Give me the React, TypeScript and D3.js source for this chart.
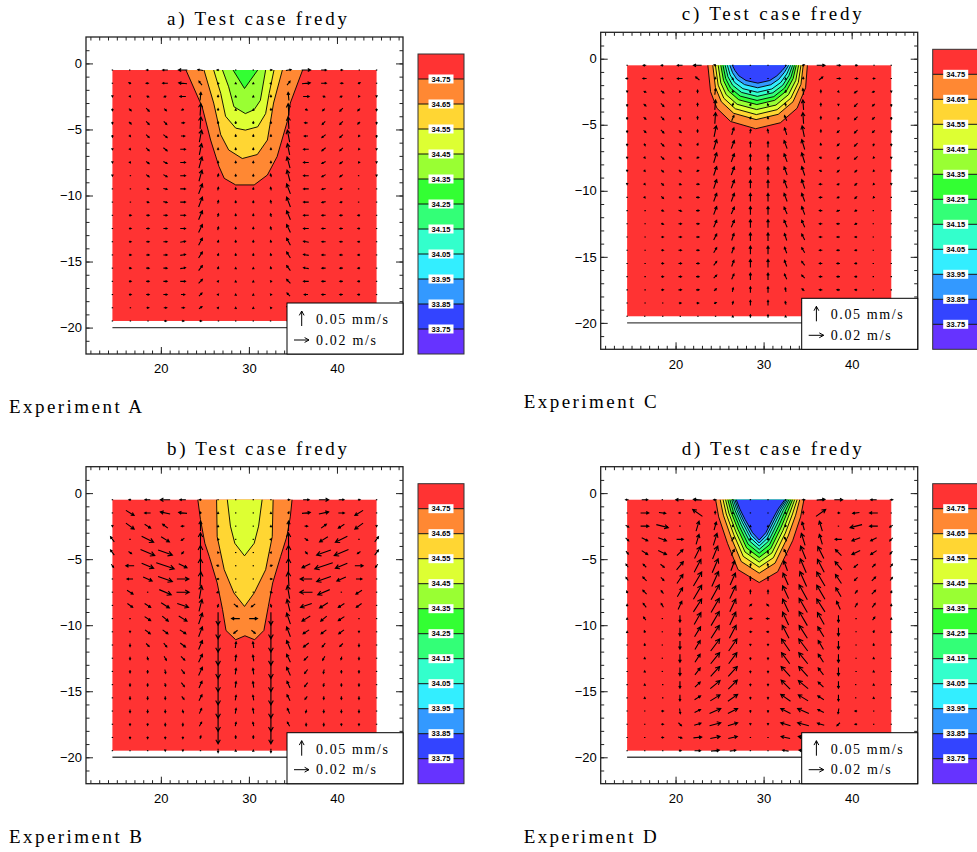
import React, { useEffect, useRef } from "react";
import * as d3 from "d3";

// salinity levels on the colour bar, top to bottom
const LEVELS = [34.75, 34.65, 34.55, 34.45, 34.35, 34.25, 34.15, 34.05, 33.95, 33.85, 33.75];
const CB_RANGE = [33.65, 34.85];
const BAND_COLORS = [
  "#ff3333", "#ff8833", "#ffd633", "#ddff33", "#99ff33", "#33ff33",
  "#33ff77", "#33ffcc", "#33eeff", "#3399ff", "#3344ff", "#6633ff",
];

const X_DOMAIN = [11.5, 47.5];
const Y_DOMAIN = [-22, 2];
const X_TICKS = [20, 30, 40];
const Y_TICKS = [0, -5, -10, -15, -20];

// model grid
const GRID_X = [14.5, 16.5, 18.5, 20.5, 22.5, 24.5, 26.5, 28.5, 30.5, 32.5, 34.5, 36.5, 38.5, 40.5, 42.5, 44.5];
const GRID_Z = [-0.5, -1.5, -2.5, -3.5, -4.5, -5.5, -6.5, -7.5, -8.5, -9.5, -10.5, -11.5, -12.5, -13.5, -14.5, -15.5, -16.5, -17.5, -18.5, -19.5];
const BOTTOM_DEPTH = -20;

// reference vectors (legend)
const REF_W = 0.05; // mm/s
const REF_U = 0.02; // m/s

// velocity: one string per grid row, "u,w" per column; u in mm/s, w in um/s
const VEL_A = [
  "0,0 -1,0 -3,0 -7,0 -12,0 -7,3 -3,0 0,0 0,0 3,0 7,3 12,0 7,0 3,0 1,0 0,0",
  "0,0 -3,3 -4,0 -7,0 -11,3 -4,13 -1,3 0,3 0,3 1,3 4,13 11,3 7,0 4,0 3,3 0,0",
  "0,-3 1,-3 3,-3 -3,-3 -8,0 1,27 0,7 0,3 0,3 0,7 -1,27 8,0 3,-3 -3,-3 -1,-3 0,-3",
  "0,-7 3,-7 4,-10 3,-7 -3,-3 1,40 0,7 0,3 0,3 0,7 -1,40 3,-3 -3,-7 -4,-10 -3,-7 0,-7",
  "0,-7 3,-7 4,-10 4,-10 4,0 1,40 0,7 0,7 0,7 0,7 -1,40 -4,0 -4,-10 -4,-10 -3,-7 0,-7",
  "0,-7 1,-3 4,-10 5,-10 5,0 3,40 0,7 0,7 0,7 0,7 -3,40 -5,0 -5,-10 -4,-10 -1,-3 0,-7",
  "0,-3 1,-3 4,-10 5,-10 7,0 3,37 0,7 0,7 0,7 0,7 -3,37 -7,0 -5,-10 -4,-10 -1,-3 0,-3",
  "0,-3 1,-3 4,-7 5,-7 7,0 4,37 0,7 0,7 0,7 0,7 -4,37 -7,0 -5,-7 -4,-7 -1,-3 0,-3",
  "0,-3 1,0 4,-7 5,-7 7,0 4,37 1,10 0,7 0,7 -1,10 -4,37 -7,0 -5,-7 -4,-7 -1,0 0,-3",
  "0,0 1,0 3,-3 5,-3 7,0 5,33 1,10 0,7 0,7 -1,10 -5,33 -7,0 -5,-3 -3,-3 -1,0 0,0",
  "0,0 1,0 3,-3 5,-3 7,0 5,33 1,10 0,7 0,7 -1,10 -5,33 -7,0 -5,-3 -3,-3 -1,0 0,0",
  "0,0 3,0 4,0 5,0 7,0 5,30 1,10 0,7 0,7 -1,10 -5,30 -7,0 -5,0 -4,0 -3,0 0,0",
  "0,0 3,0 4,0 5,0 7,0 5,27 1,10 0,7 0,7 -1,10 -5,27 -7,0 -5,0 -4,0 -3,0 0,0",
  "0,0 3,0 4,0 5,0 7,3 5,23 1,7 0,7 0,7 -1,7 -5,23 -7,3 -5,0 -4,0 -3,0 0,0",
  "0,0 3,0 4,0 5,0 7,3 5,20 1,7 0,7 0,7 -1,7 -5,20 -7,3 -5,0 -4,0 -3,0 0,0",
  "0,0 3,0 4,0 5,0 7,3 5,17 1,7 0,3 0,3 -1,7 -5,17 -7,3 -5,0 -4,0 -3,0 0,0",
  "0,0 3,0 4,0 5,0 7,0 5,13 1,3 0,3 0,3 -1,3 -5,13 -7,0 -5,0 -4,0 -3,0 0,0",
  "0,0 3,0 4,0 5,0 5,0 4,10 1,3 0,3 0,3 -1,3 -4,10 -5,0 -5,0 -4,0 -3,0 0,0",
  "0,0 1,0 3,0 4,0 4,0 4,7 1,3 0,3 0,3 -1,3 -4,7 -4,0 -4,0 -3,0 -1,0 0,0",
  "0,0 1,0 1,0 3,0 3,0 3,0 1,0 0,0 0,0 -1,0 -3,0 -3,0 -3,0 -1,0 -1,0 0,0",
];

const VEL_B = [
  "0,0 -3,0 -7,0 -13,0 -8,0 -3,0 0,0 0,0 0,0 0,0 3,0 8,0 13,0 7,0 3,0 0,0",
  "0,0 11,-17 -8,0 -13,7 -11,3 -1,7 0,3 0,0 0,0 0,3 1,7 11,3 13,7 8,0 -11,-17 0,0",
  "0,-3 11,-20 8,-13 -7,13 -4,0 0,33 0,3 0,0 0,0 0,3 0,33 4,0 7,13 -8,-13 -11,-20 0,-3",
  "-5,17 0,0 16,-20 11,-17 -4,-7 0,43 -1,3 0,0 0,0 1,3 0,43 4,-7 -11,-17 -16,-20 0,0 5,17",
  "-5,17 4,-7 19,-20 19,-17 -3,-7 0,47 -1,3 0,0 0,0 1,3 0,47 3,-7 -19,-17 -19,-20 -4,-7 5,17",
  "3,-10 -11,0 16,-17 24,-20 11,-13 0,47 -3,3 0,0 0,0 3,3 0,47 -11,-13 -24,-20 -16,-17 11,0 -3,-10",
  "0,0 -8,0 12,-13 19,-17 16,0 1,47 -3,0 0,0 0,0 3,0 -1,47 -16,0 -19,-17 -12,-13 8,0 0,0",
  "0,0 8,-13 0,0 16,-17 17,0 3,43 -3,-3 0,0 0,0 3,-3 -3,43 -17,0 -16,-17 0,0 -8,-13 0,0",
  "0,0 7,-13 8,-13 11,-17 15,-13 4,40 -1,-10 5,-10 -5,-10 1,-10 -4,40 -15,-13 -11,-17 -8,-13 -7,-13 0,0",
  "0,0 0,0 8,-13 8,-17 11,-17 5,37 0,-43 -11,0 11,0 0,-43 -5,37 -11,-17 -8,-17 -8,-13 0,0 0,0",
  "0,0 0,-3 7,-13 7,-13 8,-13 5,33 0,-47 -5,-10 5,-10 0,-47 -5,33 -8,-13 -7,-13 -7,-13 0,-3 0,0",
  "0,0 0,-10 4,-10 4,-13 7,-13 5,30 0,-47 1,20 -1,20 0,-47 -5,30 -7,-13 -4,-13 -4,-10 0,-10 0,0",
  "0,0 0,-10 1,-10 3,-13 5,-13 5,27 0,-47 1,20 -1,20 0,-47 -5,27 -5,-13 -3,-13 -1,-10 0,-10 0,0",
  "0,0 0,-10 0,-10 1,-13 4,-13 5,27 0,-47 1,20 -1,20 0,-47 -5,27 -4,-13 -1,-13 0,-10 0,-10 0,0",
  "0,0 0,-10 0,-10 1,-10 4,-13 4,23 0,-47 1,20 -1,20 0,-47 -4,23 -4,-13 -1,-10 0,-10 0,-10 0,0",
  "0,0 0,-10 0,-10 0,-10 3,-10 4,20 0,-47 1,17 -1,17 0,-47 -4,20 -3,-10 0,-10 0,-10 0,-10 0,0",
  "0,0 0,-10 0,-10 0,-10 1,-10 3,17 0,-47 1,17 -1,17 0,-47 -3,17 -1,-10 0,-10 0,-10 0,-10 0,0",
  "0,0 0,-7 0,-7 0,-10 0,-10 3,13 0,-47 1,13 -1,13 0,-47 -3,13 0,-10 0,-10 0,-7 0,-7 0,0",
  "0,0 0,-7 0,-7 0,-7 0,-7 1,10 0,-43 0,10 0,10 0,-43 -1,10 0,-7 0,-7 0,-7 0,-7 0,0",
  "0,0 0,0 0,0 0,-3 0,-3 0,0 0,-13 0,3 0,3 0,-13 0,0 0,-3 0,-3 0,0 0,0 0,0",
];

const VEL_C = [
  "0,0 -4,0 -3,0 -7,0 -11,0 -3,3 0,0 0,0 0,0 0,0 3,3 11,0 5,0 3,0 1,0 0,0",
  "-3,0 -5,0 -3,0 -7,0 -5,10 0,7 0,3 0,0 0,0 0,3 0,7 5,10 5,0 4,0 3,0 0,0",
  "0,-3 3,-3 4,-7 -1,-3 0,10 1,20 0,7 1,3 -1,3 0,7 -1,20 0,10 1,-3 -4,-7 -3,-3 0,-3",
  "0,-7 3,-7 4,-10 0,-3 0,10 1,33 1,10 1,7 -1,7 -1,10 -1,33 0,10 0,-3 -4,-10 -3,-7 0,-7",
  "0,-7 3,-7 4,-10 1,-7 0,10 1,37 3,17 1,7 -1,7 -3,17 -1,37 0,10 -1,-7 -4,-10 -3,-7 0,-7",
  "0,-7 3,-7 4,-10 3,-7 0,10 3,37 3,23 1,13 -1,13 -3,23 -3,37 0,10 -3,-7 -4,-10 -3,-7 0,-7",
  "0,-7 1,-7 4,-10 3,-7 1,7 4,33 4,27 0,20 0,20 -4,27 -4,33 -1,7 -3,-7 -4,-10 -1,-7 0,-7",
  "0,-3 1,-3 4,-10 3,-7 3,3 4,33 4,27 0,23 0,23 -4,27 -4,33 -3,3 -3,-7 -4,-10 -1,-3 0,-3",
  "0,-3 1,-3 3,-7 3,-7 3,3 4,30 4,27 0,27 0,27 -4,27 -4,30 -3,3 -3,-7 -3,-7 -1,-3 0,-3",
  "0,-3 1,-3 3,-7 3,-3 4,0 4,30 4,27 0,27 0,27 -4,27 -4,30 -4,0 -3,-3 -3,-7 -1,-3 0,-3",
  "0,0 1,-3 3,-7 3,-3 4,0 4,27 4,27 0,27 0,27 -4,27 -4,27 -4,0 -3,-3 -3,-7 -1,-3 0,0",
  "0,0 1,0 3,-3 4,-3 4,0 4,27 4,23 0,27 0,27 -4,23 -4,27 -4,0 -4,-3 -3,-3 -1,0 0,0",
  "0,0 1,0 3,-3 4,0 4,0 4,23 4,23 0,27 0,27 -4,23 -4,23 -4,0 -4,0 -3,-3 -1,0 0,0",
  "0,0 1,0 3,0 4,0 4,0 4,20 3,23 0,27 0,27 -3,23 -4,20 -4,0 -4,0 -3,0 -1,0 0,0",
  "0,0 1,0 3,0 4,0 4,0 4,17 3,20 0,27 0,27 -3,20 -4,17 -4,0 -4,0 -3,0 -1,0 0,0",
  "0,0 1,0 3,0 4,0 4,0 4,13 3,20 0,27 0,27 -3,20 -4,13 -4,0 -4,0 -3,0 -1,0 0,0",
  "0,0 1,0 3,0 4,0 4,0 4,10 3,17 0,23 0,23 -3,17 -4,10 -4,0 -4,0 -3,0 -1,0 0,0",
  "0,0 1,0 3,0 4,0 4,0 3,7 1,13 0,20 0,20 -1,13 -3,7 -4,0 -4,0 -3,0 -1,0 0,0",
  "0,0 1,0 1,0 3,0 3,0 3,3 1,10 0,17 0,17 -1,10 -3,3 -3,0 -3,0 -1,0 -1,0 0,0",
  "0,0 0,0 1,0 1,0 1,0 1,0 0,3 0,10 0,10 0,3 -1,0 -1,0 -1,0 -1,0 0,0 0,0",
];

const VEL_D = [
  "-4,0 8,0 0,0 -11,0 -11,3 -4,0 0,0 0,0 0,0 0,0 4,0 11,3 11,0 0,0 -8,0 4,0",
  "0,0 11,0 9,-3 -3,0 -13,23 0,10 0,3 0,0 0,0 0,3 0,10 13,23 3,0 -9,-3 -11,0 0,0",
  "4,-7 11,0 16,-10 0,0 4,33 3,27 1,7 0,3 0,3 -1,7 -3,27 -4,33 0,0 -16,-10 -11,0 -4,-7",
  "4,-10 8,-10 11,-10 9,0 4,33 5,40 3,13 0,7 0,7 -3,13 -5,40 -4,33 -9,0 -11,-10 -8,-10 -4,-10",
  "3,-10 8,-13 11,-13 8,20 8,40 7,43 4,20 1,10 -1,10 -4,20 -7,43 -8,40 -8,20 -11,-13 -8,-13 -3,-10",
  "-3,10 -4,10 5,-10 9,27 9,43 8,47 5,33 1,13 -1,13 -5,33 -8,47 -9,43 -9,27 -5,-10 4,10 3,10",
  "-3,10 -5,13 4,-10 8,30 11,47 9,50 7,40 0,13 0,13 -7,40 -9,50 -11,47 -8,30 -4,-10 5,13 3,10",
  "-1,7 -5,13 -3,10 7,30 11,47 11,50 8,43 0,13 0,13 -8,43 -11,50 -11,47 -7,30 3,10 5,13 1,7",
  "0,7 -4,13 -3,13 5,27 11,43 11,47 8,43 3,7 -3,7 -8,43 -11,47 -11,43 -5,27 3,13 4,13 0,7",
  "0,3 -3,10 0,0 0,-23 9,40 11,47 8,43 4,0 -4,0 -8,43 -11,47 -9,40 0,-23 0,0 3,10 0,3",
  "0,3 -1,7 0,0 0,-27 8,33 11,43 9,43 3,0 -3,0 -9,43 -11,43 -8,33 0,-27 0,0 1,7 0,3",
  "0,0 0,7 0,0 0,-27 7,30 12,40 11,40 0,-3 0,-3 -11,40 -12,40 -7,30 0,-27 0,0 0,7 0,0",
  "0,0 0,3 0,0 0,-27 7,27 12,37 11,37 0,-7 0,-7 -11,37 -12,37 -7,27 0,-27 0,0 0,3 0,0",
  "0,0 0,3 0,0 0,-27 7,23 12,33 12,33 0,-7 0,-7 -12,33 -12,33 -7,23 0,-27 0,0 0,3 0,0",
  "0,0 0,3 1,0 0,-23 7,17 13,27 12,30 0,-7 0,-7 -12,30 -13,27 -7,17 0,-23 -1,0 0,3 0,0",
  "0,0 0,3 1,0 0,-20 8,13 13,20 13,23 0,-7 0,-7 -13,23 -13,20 -8,13 0,-20 -1,0 0,3 0,0",
  "0,0 0,0 3,0 1,-17 8,10 15,17 13,17 0,-7 0,-7 -13,17 -15,17 -8,10 -1,-17 -3,0 0,0 0,0",
  "0,0 0,0 3,0 4,-10 9,7 15,10 13,10 0,-3 0,-3 -13,10 -15,10 -9,7 -4,-10 -3,0 0,0 0,0",
  "0,0 0,0 3,0 5,-3 11,3 13,7 12,7 0,0 0,0 -12,7 -13,7 -11,3 -5,-3 -3,0 0,0 0,0",
  "0,0 0,0 1,0 3,0 8,0 11,3 8,3 0,0 0,0 -8,3 -11,3 -8,0 -3,0 -1,0 0,0 0,0",
];

// salinity isolines [x, depth], outermost (34.75) first
const CONT_A = [
  [[22.85, -0.5], [24.7, -3.3], [25.65, -5.8], [26.6, -7.8], [27.2, -8.7], [28.5, -9.2], [30.6, -9.2], [32.1, -8.45], [33.2, -7.06], [34.4, -4.3], [34.7, -3.0], [36.1, -0.5]],
  [[24.9, -0.5], [26.0, -3.0], [26.8, -5.4], [27.7, -6.55], [29.25, -7.2], [30.95, -6.9], [32.1, -5.8], [32.8, -3.0], [33.8, -0.5]],
  [[26.0, -0.5], [26.8, -2.27], [27.35, -4.0], [28.5, -4.9], [29.6, -5.05], [31.0, -4.8], [31.9, -3.8], [32.3, -2.27], [32.85, -0.5]],
  [[27.0, -0.5], [27.7, -1.77], [28.3, -3.28], [29.6, -3.8], [30.6, -3.5], [31.3, -2.8], [31.9, -0.5]],
  [[28.2, -0.5], [29.5, -1.9], [31.0, -0.5]],
];

const CONT_B = [
  [[24.2, -0.5], [24.5, -2.0], [25.0, -3.8], [25.5, -4.8], [26.4, -6.8], [27.0, -8.8], [27.4, -10.4], [28.5, -11.1], [29.55, -10.8], [30.65, -11.1], [31.7, -10.4], [32.2, -8.6], [32.7, -6.8], [33.6, -4.8], [34.3, -3.3], [34.7, -1.8], [34.9, -0.5]],
  [[26.33, -0.5], [26.4, -3.3], [27.2, -5.8], [28.3, -7.56], [29.5, -8.58], [30.6, -7.56], [31.9, -5.8], [32.65, -3.3], [32.75, -0.5]],
  [[27.55, -0.5], [27.9, -2.5], [28.4, -3.8], [29.5, -4.75], [30.6, -3.8], [31.1, -2.5], [31.5, -0.5]],
];

const CONT_C = [
  [[23.67, -0.5], [23.98, -2.5], [24.7, -3.75], [26.25, -4.75], [29.1, -5.3], [31.9, -4.85], [33.8, -3.75], [34.77, -2.2], [34.97, -0.5]],
  [[24.23, -0.5], [24.53, -2.18], [25.2, -3.26], [26.6, -4.13], [29.15, -4.61], [31.66, -4.21], [33.34, -3.26], [34.24, -1.94], [34.5, -0.5]],
  [[24.53, -0.5], [24.84, -2.0], [25.48, -2.99], [26.79, -3.79], [29.18, -4.23], [31.53, -3.86], [33.09, -2.99], [33.94, -1.8], [34.24, -0.5]],
  [[24.84, -0.5], [25.14, -1.83], [25.75, -2.72], [26.99, -3.45], [29.2, -3.85], [31.4, -3.51], [32.83, -2.72], [33.65, -1.65], [33.97, -0.5]],
  [[25.14, -0.5], [25.45, -1.65], [26.03, -2.45], [27.18, -3.11], [29.23, -3.47], [31.26, -3.15], [32.58, -2.45], [33.35, -1.51], [33.71, -0.5]],
  [[25.39, -0.5], [25.7, -1.51], [26.25, -2.23], [27.34, -2.83], [29.26, -3.16], [31.16, -2.87], [32.37, -2.23], [33.11, -1.39], [33.5, -0.5]],
  [[25.64, -0.5], [25.95, -1.36], [26.48, -2.01], [27.49, -2.55], [29.28, -2.85], [31.05, -2.58], [32.17, -2.01], [32.87, -1.28], [33.29, -0.5]],
  [[25.89, -0.5], [26.2, -1.22], [26.7, -1.79], [27.65, -2.27], [29.3, -2.54], [30.94, -2.29], [31.96, -1.79], [32.63, -1.16], [33.07, -0.5]],
  [[26.17, -0.5], [26.47, -1.06], [26.95, -1.55], [27.83, -1.96], [29.33, -2.2], [30.82, -1.97], [31.73, -1.55], [32.37, -1.03], [32.84, -0.5]],
  [[26.45, -0.5], [26.75, -0.9], [27.2, -1.3], [28.0, -1.65], [29.35, -1.85], [30.7, -1.65], [31.5, -1.3], [32.1, -0.9], [32.6, -0.5]],
];

const CONT_D = [
  [[24.55, -0.5], [24.9, -1.8], [25.9, -3.8], [27.1, -5.8], [29.5, -6.77], [31.6, -5.95], [33.3, -3.6], [34.2, -1.8], [34.58, -0.5]],
  [[25.07, -0.5], [25.43, -1.67], [26.34, -3.4], [27.46, -5.18], [29.5, -6.06], [31.3, -5.3], [32.79, -3.25], [33.64, -1.67], [34.1, -0.5]],
  [[25.4, -0.5], [25.76, -1.58], [26.62, -3.15], [27.69, -4.79], [29.5, -5.61], [31.11, -4.89], [32.47, -3.02], [33.28, -1.58], [33.8, -0.5]],
  [[25.68, -0.5], [26.05, -1.51], [26.86, -2.94], [27.89, -4.46], [29.5, -5.22], [30.95, -4.53], [32.2, -2.83], [32.98, -1.51], [33.53, -0.5]],
  [[25.94, -0.5], [26.32, -1.45], [27.08, -2.74], [28.07, -4.15], [29.5, -4.87], [30.8, -4.21], [31.94, -2.66], [32.7, -1.45], [33.29, -0.5]],
  [[26.17, -0.5], [26.56, -1.39], [27.28, -2.56], [28.24, -3.87], [29.5, -4.55], [30.67, -3.91], [31.71, -2.5], [32.44, -1.39], [33.08, -0.5]],
  [[26.38, -0.5], [26.77, -1.33], [27.46, -2.4], [28.39, -3.62], [29.5, -4.26], [30.55, -3.65], [31.51, -2.35], [32.21, -1.33], [32.88, -0.5]],
  [[26.57, -0.5], [26.96, -1.28], [27.62, -2.25], [28.52, -3.39], [29.5, -4.0], [30.44, -3.41], [31.32, -2.22], [32.01, -1.28], [32.71, -0.5]],
  [[26.74, -0.5], [27.13, -1.24], [27.76, -2.13], [28.63, -3.2], [29.5, -3.78], [30.34, -3.21], [31.16, -2.11], [31.83, -1.24], [32.55, -0.5]],
  [[26.9, -0.5], [27.3, -1.2], [27.9, -2.0], [28.75, -3.0], [29.5, -3.55], [30.25, -3.0], [31.0, -2.0], [31.65, -1.2], [32.4, -0.5]],
];

const PANELS = [
  { title: "a) Test case fredy", label: "Experiment A", left: 86, top: 37, vel: VEL_A, cont: CONT_A },
  { title: "b) Test case fredy", label: "Experiment B", left: 86, top: 466.7, vel: VEL_B, cont: CONT_B },
  { title: "c) Test case fredy", label: "Experiment C", left: 600.7, top: 32.3, vel: VEL_C, cont: CONT_C },
  { title: "d) Test case fredy", label: "Experiment D", left: 600.7, top: 466.7, vel: VEL_D, cont: CONT_D },
];

const PLOT_W = 317;
const PLOT_H = 317;
const ARROW_REF = 15; // px length of a reference vector
const SERIF = "'Liberation Serif', 'DejaVu Serif', serif";
const SANS = "'Liberation Sans', Arial, sans-serif";

function arrowPath(x0: number, y0: number, x1: number, y1: number) {
  const len = Math.hypot(x1 - x0, y1 - y0);
  if (len < 0.8) return `M${x1 - 0.7},${y1}h1.4`;
  const a = Math.atan2(y1 - y0, x1 - x0);
  const hl = Math.max(1.8, Math.min(5, 0.36 * len));
  const h1x = x1 - hl * Math.cos(a - 0.5), h1y = y1 - hl * Math.sin(a - 0.5);
  const h2x = x1 - hl * Math.cos(a + 0.5), h2y = y1 - hl * Math.sin(a + 0.5);
  return `M${x0},${y0}L${x1},${y1}M${h1x},${h1y}L${x1},${y1}L${h2x},${h2y}`;
}

function drawPanel(root: any, p: any) {
  const g = root.append("g").attr("transform", `translate(${p.left},${p.top})`);
  const x = d3.scaleLinear().domain(X_DOMAIN).range([0, PLOT_W]);
  const y = d3.scaleLinear().domain(Y_DOMAIN).range([PLOT_H, 0]);
  const uScale = d3.scaleLinear().domain([0, REF_U * 1000]).range([0, ARROW_REF]);
  const wScale = d3.scaleLinear().domain([0, REF_W * 1000]).range([0, ARROW_REF]);

  g.append("text")
    .attr("x", 81).attr("y", -12)
    .attr("textLength", 180).attr("lengthAdjust", "spacing")
    .attr("font-family", SERIF).attr("font-size", 19)
    .text(p.title);

  // salinity field
  const x0 = GRID_X[0], x1 = GRID_X[GRID_X.length - 1];
  const z0 = GRID_Z[0], z1 = GRID_Z[GRID_Z.length - 1];
  g.append("rect")
    .attr("x", x(x0)).attr("y", y(z0))
    .attr("width", x(x1) - x(x0)).attr("height", y(z1) - y(z0))
    .attr("fill", BAND_COLORS[0]);

  const line = d3.line<number[]>().x((d) => x(d[0])).y((d) => y(d[1]));
  p.cont.forEach((pts: number[][], k: number) => {
    g.append("path").attr("d", line(pts) + "Z").attr("fill", BAND_COLORS[k + 1]);
    g.append("path").attr("d", line(pts)).attr("fill", "none").attr("stroke", "#000").attr("stroke-width", 0.9);
  });

  g.append("line")
    .attr("x1", x(x0)).attr("x2", x(x1))
    .attr("y1", y(BOTTOM_DEPTH)).attr("y2", y(BOTTOM_DEPTH))
    .attr("stroke", "#444").attr("stroke-width", 1.4);

  // velocity vectors
  const vg = g.append("g").attr("stroke", "#000").attr("stroke-width", 1.1).attr("fill", "none");
  p.vel.forEach((row: string, j: number) => {
    row.trim().split(/\s+/).forEach((tok, i) => {
      const [u, w] = tok.split(",").map(Number);
      const cx = x(GRID_X[i]), cy = y(GRID_Z[j]);
      const dx = uScale(u), dy = wScale(w);
      vg.append("path").attr("d", arrowPath(cx - dx / 2, cy + dy / 2, cx + dx / 2, cy - dy / 2));
    });
  });

  // axes (ticks pointing inward on all sides)
  const fmt = (d: number) => (d < 0 ? "\u2212" + Math.abs(d) : String(d));
  const axes = g.append("g");
  axes.append("g").attr("transform", `translate(0,${PLOT_H})`)
    .call(d3.axisBottom(x).tickValues(X_TICKS).tickSize(-7).tickPadding(10).tickFormat(fmt as any));
  axes.append("g").attr("transform", `translate(0,${PLOT_H})`)
    .call(d3.axisBottom(x).tickValues(d3.range(12, 48)).tickSize(-3.5).tickFormat(() => ""));
  axes.append("g")
    .call(d3.axisTop(x).tickValues(X_TICKS).tickSize(-7).tickFormat(() => ""));
  axes.append("g")
    .call(d3.axisTop(x).tickValues(d3.range(12, 48)).tickSize(-3.5).tickFormat(() => ""));
  axes.append("g")
    .call(d3.axisLeft(y).tickValues(Y_TICKS).tickSize(-7).tickPadding(4).tickFormat(fmt as any));
  axes.append("g")
    .call(d3.axisLeft(y).tickValues(d3.range(-21, 2)).tickSize(-3.5).tickFormat(() => ""));
  axes.append("g").attr("transform", `translate(${PLOT_W},0)`)
    .call(d3.axisRight(y).tickValues(Y_TICKS).tickSize(-7).tickFormat(() => ""));
  axes.append("g").attr("transform", `translate(${PLOT_W},0)`)
    .call(d3.axisRight(y).tickValues(d3.range(-21, 2)).tickSize(-3.5).tickFormat(() => ""));
  axes.selectAll(".domain").remove();
  axes.selectAll("line").attr("stroke", "#222");
  axes.selectAll("text").attr("font-family", SANS).attr("font-size", 13).attr("fill", "#000");

  g.append("rect")
    .attr("width", PLOT_W).attr("height", PLOT_H)
    .attr("fill", "none").attr("stroke", "#222").attr("stroke-width", 1.3);

  // vector legend
  const lg = g.append("g").attr("transform", `translate(201,${PLOT_H - 51})`);
  lg.append("rect").attr("width", 116).attr("height", 51).attr("fill", "#fff").attr("stroke", "#000").attr("stroke-width", 1);
  const wl = wScale(REF_W * 1000), ul = uScale(REF_U * 1000);
  lg.append("path").attr("d", arrowPath(14.7, 8 + wl, 14.7, 8)).attr("stroke", "#000").attr("fill", "none");
  lg.append("path").attr("d", arrowPath(7, 37, 7 + ul, 37)).attr("stroke", "#000").attr("fill", "none");
  lg.append("text").attr("x", 29).attr("y", 21).attr("font-family", SERIF).attr("font-size", 14)
    .attr("textLength", 72).attr("lengthAdjust", "spacing").text(`${REF_W.toFixed(2)} mm/s`);
  lg.append("text").attr("x", 29).attr("y", 41.5).attr("font-family", SERIF).attr("font-size", 14)
    .attr("textLength", 60).attr("lengthAdjust", "spacing").text(`${REF_U.toFixed(2)} m/s`);

  // colour bar
  const cbW = 46, cbH = 300;
  const cb = g.append("g").attr("transform", `translate(332,17)`);
  const cy = d3.scaleLinear().domain(CB_RANGE).range([cbH, 0]);
  const edges = [CB_RANGE[1], ...LEVELS, CB_RANGE[0]];
  BAND_COLORS.forEach((c, k) => {
    cb.append("rect")
      .attr("x", 0).attr("y", cy(edges[k]))
      .attr("width", cbW).attr("height", cy(edges[k + 1]) - cy(edges[k]))
      .attr("fill", c);
  });
  LEVELS.forEach((lv) => {
    const yy = cy(lv);
    cb.append("line").attr("x1", 0).attr("x2", cbW).attr("y1", yy).attr("y2", yy).attr("stroke", "#111").attr("stroke-width", 1);
    cb.append("rect").attr("x", cbW / 2 - 12.5).attr("y", yy - 4.5).attr("width", 25).attr("height", 9).attr("fill", "#fff");
    cb.append("text")
      .attr("x", cbW / 2).attr("y", yy + 2.8)
      .attr("text-anchor", "middle")
      .attr("font-family", SANS).attr("font-weight", "bold").attr("font-size", 7.5)
      .text(lv.toFixed(2));
  });
  cb.append("rect").attr("width", cbW).attr("height", cbH).attr("fill", "none").attr("stroke", "#333").attr("stroke-width", 1);

  g.append("text")
    .attr("x", -77).attr("y", 376)
    .attr("textLength", 133).attr("lengthAdjust", "spacing")
    .attr("font-family", SERIF).attr("font-size", 19)
    .text(p.label);
}

export default function App() {
  const ref = useRef<SVGSVGElement>(null);

  useEffect(() => {
    const svg = d3.select(ref.current);
    svg.selectAll("*").remove();
    PANELS.forEach((p) => drawPanel(svg, p));
  }, []);

  return (
    <svg
      ref={ref}
      width={977}
      height={852}
      style={{ position: "absolute", left: 0, top: 0, background: "#fff" }}
    />
  );
}
